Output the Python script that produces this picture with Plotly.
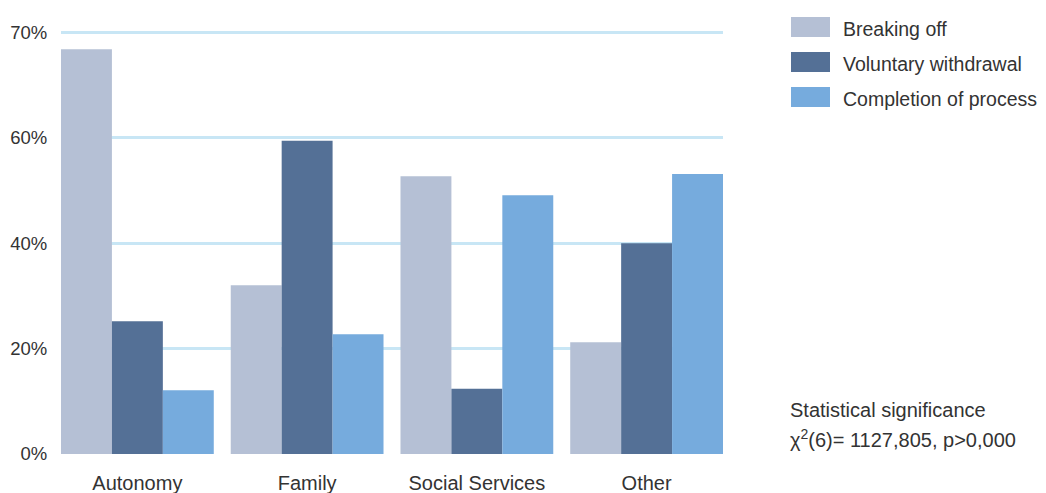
import plotly.graph_objects as go

# data
categories = ["Autonomy", "Family", "Social Services", "Other"]
series_names = ["Breaking off", "Voluntary withdrawal", "Completion of process"]
breaking_off = [76.8, 32.0, 52.7, 21.2]
voluntary_withdrawal = [25.2, 59.4, 12.4, 40.0]
completion_of_process = [12.1, 22.7, 49.1, 53.1]
tick_vals = [0, 20, 40, 60, 80]
tick_text = ["0%", "20%", "40%", "60%", "70%"]
stat_lines = ["Statistical significance", "χ<sup>2</sup>(6)= 1127,805, p&gt;0,000"]

colors = ["#b5c0d5", "#547096", "#76abdd"]
FONT = "Liberation Sans, Arial, Helvetica, sans-serif"
TEXT = "#333333"

# page body has an 8px margin, so the figure is drawn 8px in from the corner
OFF = 8
W, H = 1046 - OFF, 493 - OFF
ML, MR, MT, MB = 61 - OFF, 323, 27 - OFF, 39


def px_x(x):
    # screen x of the reference -> paper x
    return (x - OFF - ML) / (W - ML - MR)


def px_y(y):
    return (H - MB - (y - OFF)) / (H - MT - MB)


fig = go.Figure()
for name, vals, col in zip(series_names,
                           [breaking_off, voluntary_withdrawal, completion_of_process],
                           colors):
    fig.add_trace(go.Bar(x=categories, y=vals, name=name,
                         marker=dict(color=col, line=dict(width=0))))

shapes = []
annotations = []
# hand-drawn legend to match the big swatches
for i, (name, col) in enumerate(zip(series_names, colors)):
    top = 17 + i * 35
    shapes.append(dict(type="rect", xref="paper", yref="paper",
                       x0=px_x(791), x1=px_x(830), y0=px_y(top + 20), y1=px_y(top),
                       fillcolor=col, line=dict(width=0)))
    annotations.append(dict(xref="paper", yref="paper", x=px_x(841), y=px_y(top + 12),
                            text=name, showarrow=False, xanchor="left", yanchor="middle",
                            font=dict(size=19.5, color=TEXT, family=FONT)))

for j, line in enumerate(stat_lines):
    annotations.append(dict(xref="paper", yref="paper", x=px_x(788), y=px_y(410 + j * 28),
                            text=line, showarrow=False, xanchor="left", yanchor="middle",
                            font=dict(size=20, color=TEXT, family=FONT)))

fig.update_layout(
    width=W, height=H,
    margin=dict(l=ML, r=MR, t=MT, b=MB),
    barmode="group", bargap=0.1, bargroupgap=0,
    plot_bgcolor="white", paper_bgcolor="white",
    showlegend=False,
    font=dict(family=FONT, color=TEXT, size=20),
    shapes=shapes, annotations=annotations,
    xaxis=dict(range=[-0.45, 3.45], showgrid=False, zeroline=False, showline=False,
               automargin=False,
               ticks="outside", ticklen=11, tickcolor="rgba(0,0,0,0)",
               tickfont=dict(size=20, color=TEXT, family=FONT)),
    yaxis=dict(range=[0, 81], tickvals=tick_vals, ticktext=tick_text,
               showgrid=True, gridcolor="#c8e6f5", gridwidth=3,
               zeroline=False, showline=False, automargin=False,
               ticks="outside", ticklen=9, tickcolor="rgba(0,0,0,0)",
               tickfont=dict(size=18.5, color=TEXT, family=FONT)),
)

fig.write_html("out.html")
